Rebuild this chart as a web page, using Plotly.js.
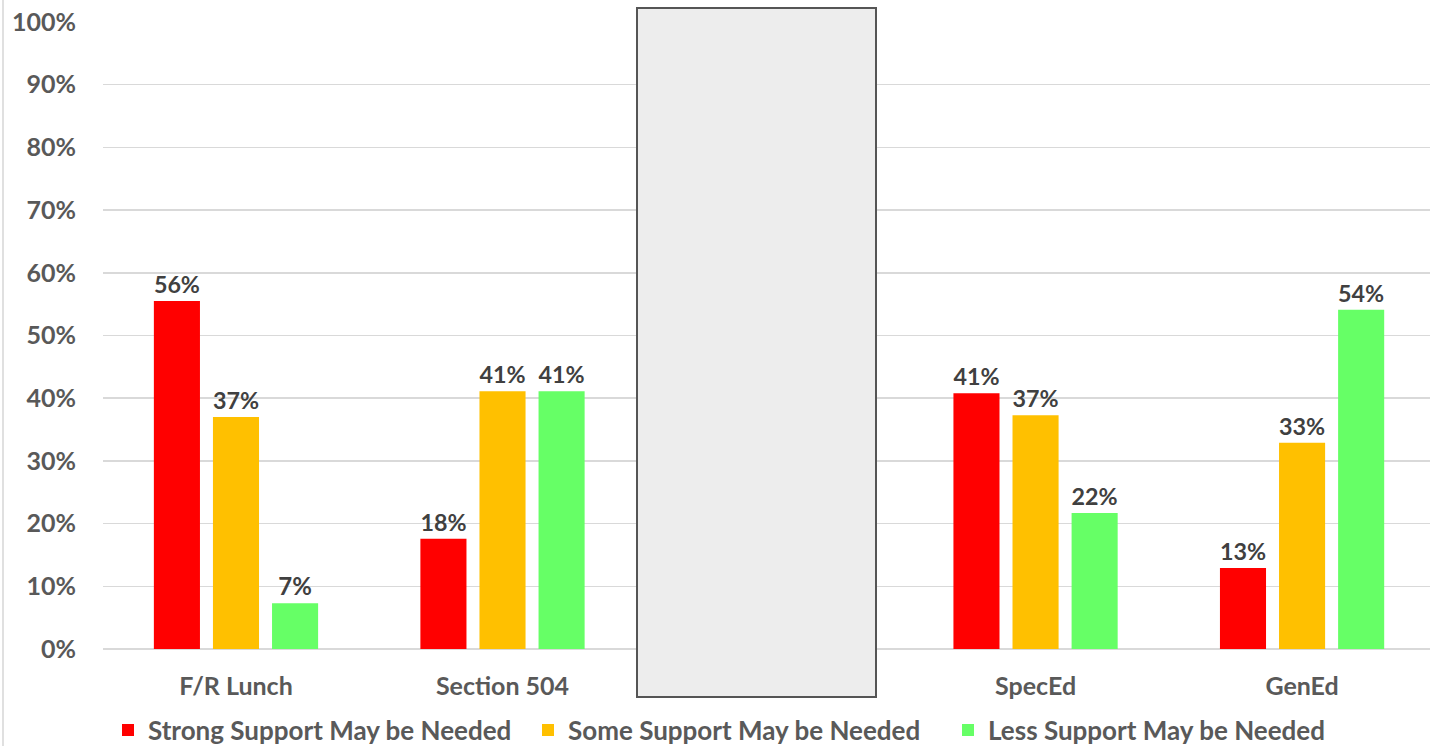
<!DOCTYPE html>
<html>
<head>
<meta charset="utf-8">
<script src="https://cdn.plot.ly/plotly-3.0.1.min.js"></script>
<style>html,body{margin:0;padding:0;background:#fff;}#chart{width:1430px;height:746px;}</style>
</head>
<body>
<div id="chart"></div>
<script>
const categories = ["F/R Lunch", "Section 504", " ", "SpecEd", "GenEd"];
const seriesNames = ["Strong Support May be Needed", "Some Support May be Needed", "Less Support May be Needed"];
const strongValues = [55.5, 17.6, null, 40.8, 12.9];
const someValues = [37.0, 41.1, null, 37.3, 32.9];
const lessValues = [7.3, 41.1, null, 21.7, 54.1];
const labelsStrong = ["56%", "18%", "", "41%", "13%"];
const labelsSome = ["37%", "41%", "", "37%", "33%"];
const labelsLess = ["7%", "41%", "", "22%", "54%"];
const colors = ["#FF0000", "#FFC000", "#66FF66"];
const yTicks = [0,10,20,30,40,50,60,70,80,90,100];

const FONT = "Lato, 'Open Sans', sans-serif";
const values = [strongValues, someValues, lessValues];
const labels = [labelsStrong, labelsSome, labelsLess];
const traces = values.map((v, i) => ({
  type: "bar",
  name: seriesNames[i],
  x: categories,
  y: v,
  text: labels[i],
  textposition: "outside",
  texttemplate: "%{text}",
  cliponaxis: false,
  marker: {color: colors[i]},
  textfont: {family: FONT, size: 24, color: "#404040", weight: 700},
  hoverinfo: "skip"
}));

const W = 1430, L = 103, R = 0;
const pw = W - L - R;
function px(x){ return (x - L) / pw; }

const layout = {
  width: 1430, height: 746,
  margin: {l: L, r: R, t: 22, b: 97},
  paper_bgcolor: "#fff", plot_bgcolor: "#fff",
  barmode: "group", bargap: 0.335, bargroupgap: 0.22,
  font: {family: FONT, color: "#595959"},
  showlegend: true,
  legend: {orientation: "h", xref: "container", yref: "container", x: 108 / W, xanchor: "left",
           y: (746 - 730) / 746, yanchor: "middle", entrywidth: 375, entrywidthmode: "pixels",
           bgcolor: "rgba(0,0,0,0)",
           font: {family: FONT, size: 26, color: "#595959", weight: 700}, itemwidth: 30, traceorder: "normal"},
  xaxis: {type: "category", range: [-0.499, 4.48], tickfont: {family: FONT, size: 25, color: "#595959", weight: 700},
          showgrid: false, showline: false, ticks: "", ticklabelstandoff: 20, fixedrange: true},
  yaxis: {range: [0, 100], tickvals: yTicks, ticktext: yTicks.map(t => t + "%"),
          tickfont: {family: FONT, size: 25, color: "#595959", weight: 700},
          showgrid: true, gridcolor: "#D9D9D9", gridwidth: 1.5, zeroline: true, zerolinecolor: "#D9D9D9", zerolinewidth: 1.5,
          showline: false, ticks: "", ticklabelstandoff: 26, fixedrange: true},
  shapes: [
    {type: "line", xref: "paper", yref: "paper", x0: px(3), x1: px(3), y0: 1.05, y1: -0.2,
     line: {color: "#E0E0E0", width: 2}, layer: "below"},
    {type: "rect", xref: "paper", yref: "paper", x0: px(637), x1: px(876),
     y0: (649 - 697) / 627, y1: (649 - 8) / 627,
     fillcolor: "#EDEDED", line: {color: "#555555", width: 2}, layer: "above"}
  ]
};

Plotly.newPlot("chart", traces, layout, {displayModeBar: false, staticPlot: true});
</script>
</body>
</html>
